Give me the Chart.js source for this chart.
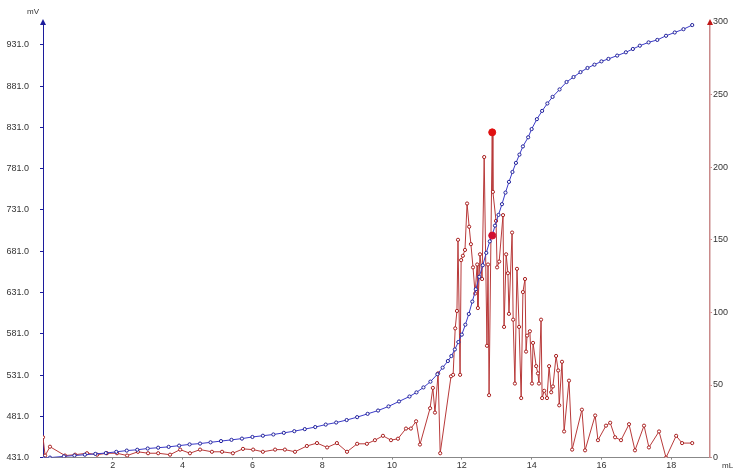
<!DOCTYPE html>
<html>
<head>
<meta charset="utf-8">
<script src="https://cdn.jsdelivr.net/npm/chart.js@4.4.1/dist/chart.umd.min.js"></script>
<style>
  html, body { margin: 0; padding: 0; background: #fff; }
  #wrap { width: 735px; height: 474px; position: relative; }
</style>
</head>
<body>
<div id="wrap"><canvas id="titration"></canvas></div>
<script>
// ── Data ────────────────────────────────────────────────────────
const potentialVol = [0, 0.2, 0.6, 0.9, 1.2, 1.5, 1.8, 2.1, 2.4, 2.7, 3.0, 3.3, 3.6, 3.9, 4.2, 4.5, 4.8, 5.1, 5.4, 5.7,
  6.0, 6.3, 6.6, 6.9, 7.2, 7.5, 7.8, 8.1, 8.4, 8.7, 9.0, 9.3, 9.6, 9.9, 10.2, 10.5, 10.7, 10.9, 11.1, 11.3,
  11.45, 11.6, 11.7, 11.8, 11.9, 12.0, 12.1, 12.2, 12.3, 12.4, 12.5, 12.6, 12.7, 12.8, 12.87, 12.95, 13.05,
  13.15, 13.25, 13.35, 13.45, 13.55, 13.65, 13.75, 13.9, 14.0, 14.15, 14.3, 14.45, 14.6, 14.8, 15.0, 15.2,
  15.4, 15.6, 15.8, 16.0, 16.2, 16.45, 16.7, 16.9, 17.1, 17.35, 17.6, 17.85, 18.1, 18.35, 18.6];
const potentialMv = [431, 431, 432.5, 433.5, 434.5, 435.5, 436.5, 438, 439.5, 440.5, 442, 443, 444, 445.5, 447, 448, 449.5, 451, 452.5, 454,
  456, 457.5, 459, 461, 463, 465.5, 468, 471, 473.5, 476.5, 480, 484, 488, 493, 499, 505, 510, 516, 523, 532,
  540, 548, 554, 562, 571, 580, 592, 605, 620, 635, 650, 664, 679, 693, 700, 712, 725,
  738, 752, 765, 777, 788, 798, 808, 819, 829, 841, 851, 860, 868, 877, 886, 892,
  898, 903, 907, 911, 914, 918, 922, 926, 930, 934, 937, 942, 946, 950, 955];

const derivVol = [0.00, 0.06, 0.20, 0.63, 0.92, 1.26, 1.55, 1.83, 2.12, 2.41, 2.72, 3.01, 3.30, 3.64, 3.93, 4.21, 4.50, 4.84,
  5.13, 5.44, 5.73, 6.02, 6.30, 6.65, 6.93, 7.22, 7.56, 7.85, 8.14, 8.42, 8.71, 9.00, 9.28, 9.51, 9.74, 9.97,
  10.17, 10.40, 10.54, 10.69, 10.80, 11.09, 11.17, 11.23, 11.32, 11.38, 11.69, 11.75, 11.81, 11.86, 11.89,
  11.95, 11.98, 12.03, 12.09, 12.15, 12.21, 12.26, 12.32, 12.38, 12.44, 12.46, 12.52, 12.58, 12.64, 12.72,
  12.75, 12.78, 12.87, 12.89, 12.98, 13.01, 13.07, 13.18, 13.21, 13.27, 13.32, 13.35, 13.44, 13.47, 13.52,
  13.58, 13.64, 13.70, 13.75, 13.81, 13.84, 13.87, 13.95, 14.01, 14.04, 14.13, 14.18, 14.21, 14.27, 14.30,
  14.36, 14.44, 14.50, 14.56, 14.61, 14.70, 14.76, 14.79, 14.87, 14.93, 15.07, 15.16, 15.44, 15.53, 15.82,
  15.90, 16.13, 16.25, 16.39, 16.56, 16.79, 16.96, 17.22, 17.36, 17.65, 17.85, 18.14, 18.31, 18.60];
const derivRate = [14, 1.4, 7.5, 1.4, 2, 3, 2, 3, 3, 1.4, 4, 3, 3, 2, 5.5, 3, 5.5, 4,
  4, 3, 6, 5.5, 4, 5.5, 5.5, 4, 8, 10, 7, 10, 4, 9.5, 9.5, 12, 15, 12,
  13, 20, 20, 25, 9, 34, 48, 31, 58, 3, 56, 57, 89, 101, 150,
  57, 136, 139, 143, 175, 159, 147, 131, 113, 133, 103, 140, 123, 207, 77,
  133, 43, 224, 183, 163, 131, 135, 167, 90, 140, 127, 99, 155, 95, 51,
  130, 90, 41, 114, 123, 73, 84, 87, 51, 79, 63, 58, 51, 95, 41,
  46, 41, 63, 45, 49, 70, 60, 36, 66, 18, 53, 5.5, 33, 5, 29,
  12, 22, 24, 14, 12, 23, 5, 22, 7, 18, 0, 15, 10, 10];

// detected end point
const endVol = 12.87;
const endMv = 700;
const endRate = 224;

const mvTicks = [431, 481, 531, 581, 631, 681, 731, 781, 831, 881, 931];
const rateTicks = [0, 50, 100, 150, 200, 250, 300];
const volTicks = [2, 4, 6, 8, 10, 12, 14, 16, 18];

// ── Styling ─────────────────────────────────────────────────────
const BLUE = "#3a3ac8";
const BLUE_AXIS = "#1c1c9c";
const RED = "#b83a3a";
const RED_AXIS = "#c98a8a";
const TICK_FONT = { family: "'Liberation Sans', Arial, sans-serif", size: 9 };

const pts = (xs, ys) => xs.map((x, i) => ({ x, y: ys[i] }));

// Axis arrows and unit labels
const decorPlugin = {
  id: "decor",
  afterDraw(chart) {
    const ctx = chart.ctx;
    const { left, right, top } = chart.chartArea;
    ctx.save();
    const arrow = (x, color) => {
      ctx.fillStyle = color;
      ctx.beginPath();
      ctx.moveTo(x, top - 3);
      ctx.lineTo(x - 3, top + 3);
      ctx.lineTo(x + 3, top + 3);
      ctx.closePath();
      ctx.fill();
    };
    arrow(left, BLUE_AXIS);
    arrow(right, "#c01818");
    ctx.fillStyle = "#333";
    ctx.font = "8px 'Liberation Sans', Arial, sans-serif";
    ctx.textAlign = "left";
    ctx.textBaseline = "middle";
    ctx.fillText("mV", 27, 12);
    ctx.fillText("mL", 722, 466);
    ctx.restore();
  }
};

new Chart(document.getElementById("titration"), {
  type: "scatter",
  data: {
    datasets: [
      {
        data: pts([endVol], [endRate]),
        yAxisID: "y1",
        pointRadius: 3.5,
        backgroundColor: "#e01010",
        borderColor: "#e01010",
        showLine: false,
      },
      {
        data: pts([endVol], [endMv]),
        yAxisID: "y",
        pointRadius: 3.5,
        backgroundColor: "#d01030",
        borderColor: "#d01030",
        showLine: false,
      },
      {
        data: pts(potentialVol, potentialMv),
        yAxisID: "y",
        showLine: true,
        borderColor: BLUE,
        borderWidth: 1,
        pointRadius: 1.6,
        pointBackgroundColor: "#ffffff",
        pointBorderColor: "#20209a",
        pointBorderWidth: 1,
      },
      {
        data: pts(derivVol, derivRate),
        yAxisID: "y1",
        showLine: true,
        borderColor: RED,
        borderWidth: 1,
        pointRadius: 1.6,
        pointBackgroundColor: "#ffffff",
        pointBorderColor: "#a82020",
        pointBorderWidth: 1,
      },
    ]
  },
  plugins: [decorPlugin],
  options: {
    responsive: true,
    maintainAspectRatio: false,
    animation: false,
    layout: { padding: { top: 22, left: 0, right: 0, bottom: 0 } },
    plugins: { legend: { display: false }, tooltip: { enabled: false } },
    scales: {
      x: {
        type: "linear",
        min: 0,
        max: 19.11,
        afterBuildTicks(axis) { axis.ticks = volTicks.map(v => ({ value: v })); },
        afterFit(axis) { axis.height = 14; },
        grid: { drawOnChartArea: false, drawTicks: true, tickLength: 2, color: "#888" },
        border: { color: "#888", width: 1 },
        ticks: { color: "#333", font: TICK_FONT, padding: 1, maxRotation: 0 },
      },
      y: {
        position: "left",
        min: 431,
        max: 958.7,
        afterBuildTicks(axis) { axis.ticks = mvTicks.map(v => ({ value: v })); },
        afterFit(axis) { axis.width = 43; },
        grid: { drawOnChartArea: false, drawTicks: true, tickLength: 3, color: BLUE_AXIS },
        border: { color: BLUE_AXIS, width: 1 },
        ticks: { color: "#333", font: TICK_FONT, padding: 11, callback: v => v.toFixed(1) },
      },
      y1: {
        position: "right",
        min: 0,
        max: 300,
        afterBuildTicks(axis) { axis.ticks = rateTicks.map(v => ({ value: v })); },
        afterFit(axis) { axis.width = 25; },
        grid: { drawOnChartArea: false, drawTicks: true, tickLength: 2, color: RED_AXIS },
        border: { color: RED_AXIS, width: 1.5 },
        ticks: { color: "#333", font: TICK_FONT, padding: 1 },
      }
    }
  }
});
</script>
</body>
</html>
